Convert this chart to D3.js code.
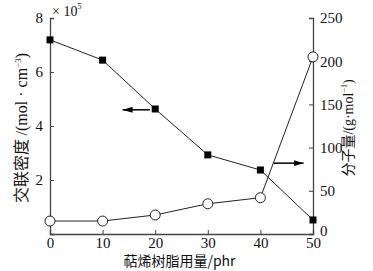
<!DOCTYPE html>
<html>
<head>
<meta charset="utf-8">
<script src="https://cdn.jsdelivr.net/npm/d3@7"></script>
<style>
  body { margin: 0; background: #fff; }
  svg text { font-family: "Liberation Serif", "Noto Sans CJK SC", serif; fill: #111; }
</style>
</head>
<body>
<svg id="chart" width="373" height="271"></svg>
<script>
// data
var resin = [0, 10, 20, 30, 40, 50];              // phr
var density = [7.19, 6.44, 4.63, 2.93, 2.37, 0.52]; // x10^5 mol/cm3
var molWeight = [15, 15, 22, 35, 42, 205];         // g/mol
var xTicks = [0, 10, 20, 30, 40, 50];
var leftTicks = [2, 4, 6, 8];
var rightTicks = [0, 50, 100, 150, 200, 250];

var svg = d3.select('#chart');
var mLeft = 50, mRight = 313, mTop = 18, mBottom = 234;

var x = d3.scaleLinear().domain([0, 50]).range([mLeft, mRight]);
var yL = d3.scaleLinear().domain([0, 8]).range([mBottom, mTop]);
var yR = d3.scaleLinear().domain([0, 250]).range([mBottom, mTop]);

// axes (ticks point inward)
var gx = svg.append('g').attr('transform', 'translate(0,' + mBottom + ')')
  .call(d3.axisBottom(x).tickValues(xTicks).tickSize(-4).tickPadding(3));
var gl = svg.append('g').attr('transform', 'translate(' + mLeft + ',0)')
  .call(d3.axisLeft(yL).tickValues(leftTicks).tickSize(-4).tickPadding(7));
var gr = svg.append('g').attr('transform', 'translate(' + mRight + ',0)')
  .call(d3.axisRight(yR).tickValues(rightTicks).tickSize(-4).tickPadding(7));

[gx, gl, gr].forEach(function (g) {
  g.select('.domain').attr('stroke', '#444').attr('stroke-width', 1.3);
  g.selectAll('.tick line').attr('stroke', '#444');
  g.selectAll('.tick text').attr('font-size', 15).attr('fill', '#111')
    .style('font-family', '"Liberation Serif", serif');
});
gx.selectAll('.tick text').attr('dy', '0.71em');
gr.selectAll('.tick text').filter(function (d) { return d === 0; }).attr('dy', '0.1em');

// x10^5 marker
var mult = svg.append('text').attr('x', 52).attr('y', 16).attr('font-size', 14);
mult.append('tspan').text('× 10');
mult.append('tspan').attr('font-size', 8).attr('dy', -7).text('5');

// lines
var lineL = d3.line().x(function (d, i) { return x(resin[i]); }).y(function (d) { return yL(d); });
var lineR = d3.line().x(function (d, i) { return x(resin[i]); }).y(function (d) { return yR(d); });

svg.append('path').attr('d', lineL(density)).attr('fill', 'none').attr('stroke', '#222').attr('stroke-width', 1);
svg.append('path').attr('d', lineR(molWeight)).attr('fill', 'none').attr('stroke', '#222').attr('stroke-width', 1);

svg.selectAll('rect.sq').data(density).enter().append('rect')
  .attr('class', 'sq')
  .attr('x', function (d, i) { return x(resin[i]) - 3.5; })
  .attr('y', function (d) { return yL(d) - 3.5; })
  .attr('width', 7).attr('height', 7).attr('fill', '#000');

svg.selectAll('circle.ci').data(molWeight).enter().append('circle')
  .attr('class', 'ci')
  .attr('cx', function (d, i) { return x(resin[i]); })
  .attr('cy', function (d) { return yR(d); })
  .attr('r', 5).attr('fill', '#fff').attr('stroke', '#222').attr('stroke-width', 1);

// arrows
svg.append('defs').append('marker').attr('id', 'ah')
  .attr('viewBox', '0 0 10 6').attr('refX', 10).attr('refY', 3)
  .attr('markerWidth', 10).attr('markerHeight', 6).attr('markerUnits', 'userSpaceOnUse')
  .attr('orient', 'auto')
  .append('path').attr('d', 'M0,0 L10,3 L0,6 Z').attr('fill', '#000');

svg.append('line').attr('x1', x(19)).attr('y1', yL(4.6)).attr('x2', x(13.8)).attr('y2', yL(4.6))
  .attr('stroke', '#000').attr('stroke-width', 1.5).attr('marker-end', 'url(#ah)');
svg.append('line').attr('x1', x(42.5)).attr('y1', yR(82)).attr('x2', x(48.2)).attr('y2', yR(82))
  .attr('stroke', '#000').attr('stroke-width', 1.5).attr('marker-end', 'url(#ah)');

// axis titles
svg.append('text').attr('x', (mLeft + mRight) / 2 - 2).attr('y', 266)
  .attr('text-anchor', 'middle').attr('font-size', 14)
  .style('font-family', '"Noto Sans CJK SC", sans-serif')
  .text('萜烯树脂用量/phr');

var tl = svg.append('text')
  .attr('transform', 'translate(27,128) rotate(-90)')
  .attr('text-anchor', 'middle').attr('font-size', 16);
tl.append('tspan').style('font-family', '"Noto Sans CJK SC", sans-serif').text('交联密度 ');
tl.append('tspan').text('/(mol · cm');
tl.append('tspan').attr('font-size', 9).attr('dy', -6).text('−3');
tl.append('tspan').attr('dy', 6).text(')');

var tr = svg.append('text')
  .attr('transform', 'translate(353,128) rotate(-90)')
  .attr('text-anchor', 'middle').attr('font-size', 14);
tr.append('tspan').style('font-family', '"Noto Sans CJK SC", sans-serif').text('分子量');
tr.append('tspan').text('/(g·mol');
tr.append('tspan').attr('font-size', 8).attr('dy', -6).text('−1');
tr.append('tspan').attr('dy', 6).text(')');
</script>
</body>
</html>
